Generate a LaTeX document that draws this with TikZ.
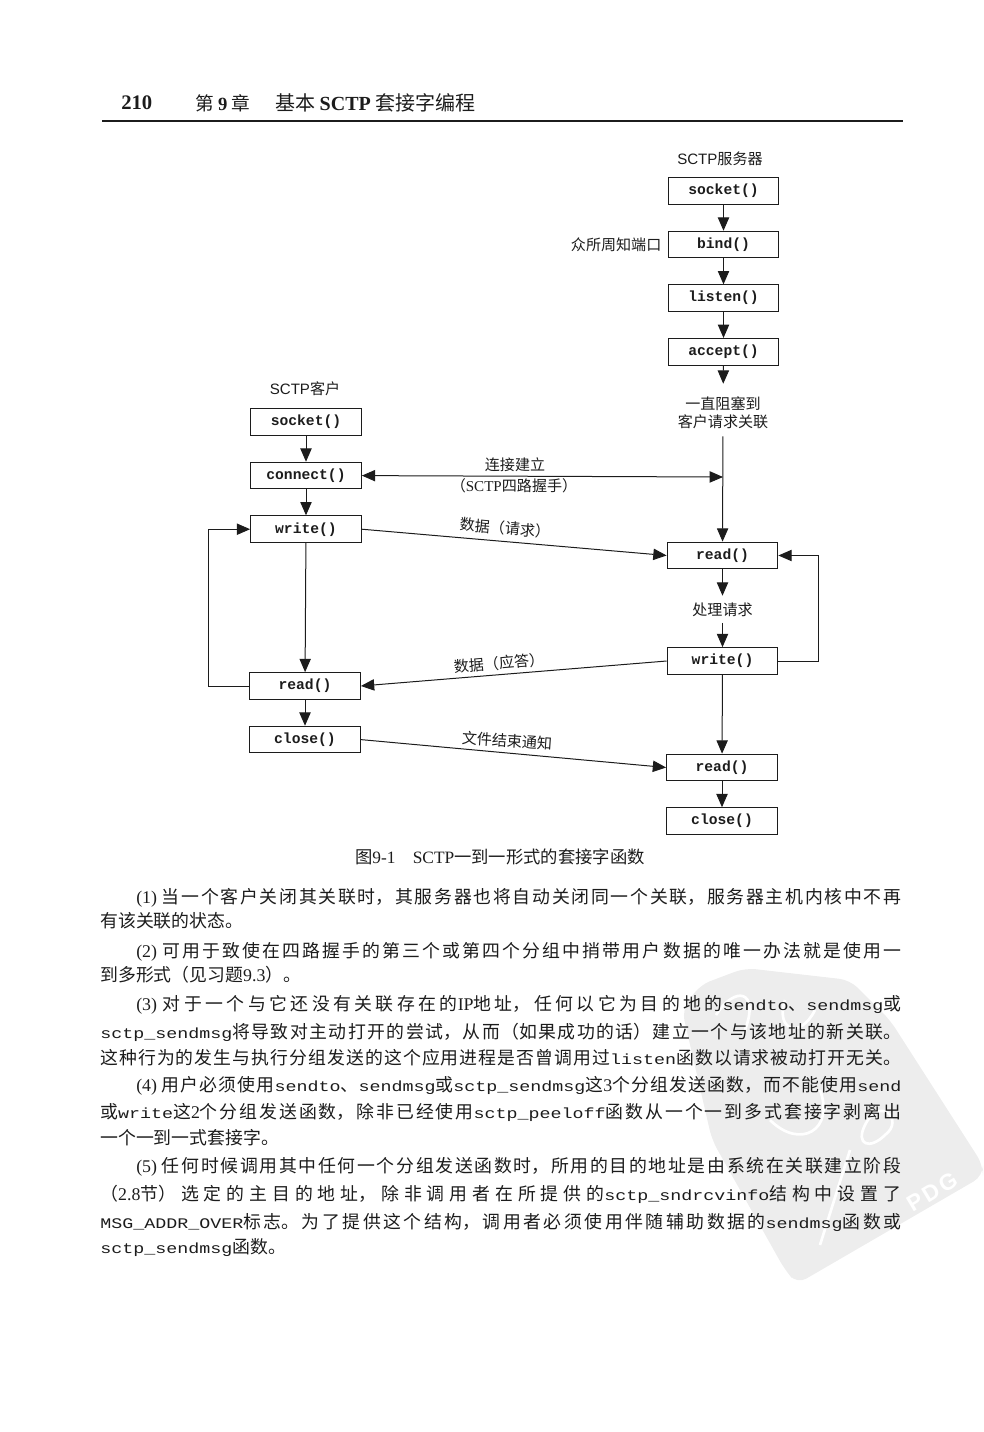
\documentclass[tikz,border=0pt]{standalone}
\usepackage{fontspec}
\usetikzlibrary{arrows.meta,positioning}
\setmainfont{Noto Sans CJK SC}
\newfontfamily\latfont{Liberation Serif}
\newfontfamily\helvfont{Liberation Sans}
\newfontfamily\boxfont{Liberation Mono}
\newfontfamily\stampfont[LetterSpace=12]{Liberation Sans}
\newfontfamily\codefont[FakeStretch=1.25]{Liberation Mono}
\newcommand{\lat}[1]{{\latfont #1}}
\newcommand{\helv}[1]{{\helvfont #1}}
\newcommand{\code}[1]{{\codefont\fontsize{11}{13}\selectfont #1}}
\XeTeXlinebreaklocale "zh"
\XeTeXlinebreakskip=0pt plus 3pt minus 0.3pt
\definecolor{ink}{HTML}{1C1C1C}
\definecolor{stamp}{HTML}{EDEDED}

\begin{document}
\begin{tikzpicture}[
  x=0.75pt, y=-0.75pt,
  font=\fontsize{11.3}{13.5}\selectfont,
  text=ink,
  funcbox/.style={draw=ink, line width=0.8pt, minimum width=83pt, minimum height=20pt,
    inner sep=0pt, font=\boxfont\bfseries\fontsize{11}{13}\selectfont},
  midnote/.style={inner sep=0pt, minimum height=20pt, align=center},
  plainnote/.style={inner sep=0pt, align=center},
  flow/.style={-{Triangle[length=10pt,width=8.5pt]}, line width=0.75pt, draw=ink},
  twoway/.style={{Triangle[length=10pt,width=8.5pt]}-{Triangle[length=10pt,width=8.5pt]}, line width=0.75pt, draw=ink},
  indentline/.style={anchor=west, inner sep=0pt, text width=573.75pt, align=justify,
    execute at begin node={\rightskip=0pt\parfillskip=0pt\relax}, font=\fontsize{13.4}{16}\selectfont},
  fullline/.style={indentline, text width=600.75pt},
  shortline/.style={anchor=west, inner sep=0pt, font=\fontsize{13.4}{16}\selectfont}
]
\useasboundingbox (0,0) rectangle (983,1432);

\fill[stamp, rounded corners=8pt] (745,968) -- (850,980) -- (890,1020) -- (983,1165) -- (983,1176)
  -- (797,1284) -- (785,1270) -- (712,1140) -- (682,1010) -- (700,985) -- cycle;
\draw[white, line width=2pt] (716,1015) .. controls (735,985) and (760,990) .. (745,1030);
\draw[white, line width=2pt] (785,1000) .. controls (775,1030) and (800,1040) .. (815,1010);
\draw[white, line width=2pt] (770,1120) .. controls (800,1150) and (835,1130) .. (820,1090);
\draw[white, line width=2pt] (885,1135) .. controls (905,1120) and (880,1095) .. (865,1125) .. controls (855,1145) and (870,1150) .. (885,1135);
\draw[white, line width=2pt] (820,1245) -- (850,1150);
\node[inner sep=0pt, text=white, rotate=31, font=\stampfont\bfseries\fontsize{17}{19}\selectfont] (stampmark) at (932,1192) {PDG};

\node[anchor=west, inner sep=0pt, font=\latfont\bfseries\fontsize{15.5}{17}\selectfont] (pagenum) at (121,103) {210};
\node[anchor=west, inner sep=0pt, font=\fontsize{14}{16}\selectfont] (chapnum) at (195,103) {第 \lat{\bfseries 9} 章};
\node[anchor=west, inner sep=0pt, font=\fontsize{15}{17}\selectfont] (chaptitle) at (275,103) {基本 \lat{\bfseries SCTP} 套接字编程};
\coordinate (ruleleft) at (102,121);
\coordinate (ruleright) at (903,121);
\draw[ink, line width=1pt] (ruleleft) -- (ruleright);

\node[plainnote] (srvtitle) at (720,159) {\helv{SCTP}服务器};
\node[funcbox] (srvsocket) at (723.5,191) {socket()};
\node[funcbox, below=19.4pt of srvsocket] (srvbind) {bind()};
\node[funcbox, below=19.4pt of srvbind] (srvlisten) {listen()};
\node[funcbox, below=19.4pt of srvlisten] (srvaccept) {accept()};
\node[plainnote, left=4.5pt of srvbind] (wellknown) {众所周知端口};
\node[plainnote, minimum height=43.5pt] (blocked) at (723,413) {一直阻塞到\\客户请求关联};

\node[plainnote] (clititle) at (305,389) {\helv{SCTP}客户};
\node[funcbox] (clisocket) at (306,422) {socket()};
\node[funcbox, below=19.4pt of clisocket] (cliconnect) {connect()};
\node[funcbox, below=19.4pt of cliconnect] (cliwrite) {write()};
\node[funcbox] (cliread) at (305,686) {read()};
\node[funcbox, below=19.4pt of cliread] (cliclose) {close()};

\node[funcbox] (srvread) at (722.5,555.5) {read()};
\node[midnote, below=19.75pt of srvread] (process) {处理请求};
\node[funcbox] (srvwrite) at (722.5,661) {write()};
\node[funcbox] (srvreadb) at (722,767.5) {read()};
\node[funcbox, below=19.4pt of srvreadb] (srvclose) {close()};

\coordinate (joint) at (723,477);
\draw[flow] (srvsocket) -- (srvbind);
\draw[flow] (srvbind) -- (srvlisten);
\draw[flow] (srvlisten) -- (srvaccept);
\draw[flow] (srvaccept) -- (blocked);
\draw[flow, shorten <=-4.5pt] (blocked) -- (srvread);
\draw[twoway] (cliconnect.east) -- (joint);
\draw[flow] (clisocket) -- (cliconnect);
\draw[flow] (cliconnect) -- (cliwrite);
\draw[flow] (cliwrite) -- (cliread);
\draw[flow] (cliread) -- (cliclose);
\draw[flow] (srvread) -- (process);
\draw[flow] (process) -- (srvwrite);
\draw[flow] (srvwrite) -- (srvreadb);
\draw[flow] (srvreadb) -- (srvclose);
\draw[flow] (cliwrite.east) -- (srvread.west);
\draw[flow] (srvwrite.west) -- (cliread.east);
\draw[flow] (cliclose.east) -- (srvreadb.west);
\draw[flow] (cliread.west) -- ++(-41,0) |- (cliwrite.west);
\draw[flow] (srvwrite.east) -- ++(40,0) |- (srvread.east);

\node[plainnote] (setuptop) at (515,465) {连接建立};
\node[plainnote] (setupbot) at (514,486) {（\lat{SCTP}四路握手）};
\node[plainnote, rotate=-5] (reqlabel) at (505,528) {数据（请求）};
\node[plainnote, rotate=5] (replabel) at (499,663) {数据（应答）};
\node[plainnote, rotate=-4] (finlabel) at (507,741) {文件结束通知};
\node[plainnote, font=\fontsize{13}{15}\selectfont] (caption) at (500,857) {图\lat{9-1}\quad\lat{SCTP}一到一形式的套接字函数};

\node[indentline] (pa) at (136,898) {\lat{(1)} 当一个客户关闭其关联时，其服务器也将自动关闭同一个关联，服务器主机内核中不再};
\node[shortline] (pb) at (100,921) {有该关联的状态。};
\node[indentline] (pc) at (136,952) {\lat{(2)} 可用于致使在四路握手的第三个或第四个分组中捎带用户数据的唯一办法就是使用一};
\node[shortline] (pd) at (100,975) {到多形式（见习题\lat{9.3}）。};
\node[indentline] (pe) at (136,1005) {\lat{(3)} 对于一个与它还没有关联存在的\lat{IP}地址，任何以它为目的地的\code{sendto}、\code{sendmsg}或};
\node[fullline] (pf) at (100,1032) {\code{sctp\_sendmsg}将导致对主动打开的尝试，从而（如果成功的话）建立一个与该地址的新关联。};
\node[fullline] (pg) at (100,1058) {这种行为的发生与执行分组发送的这个应用进程是否曾调用过\code{listen}函数以请求被动打开无关。};
\node[indentline] (ph) at (136,1086) {\lat{(4)} 用户必须使用\code{sendto}、\code{sendmsg}或\code{sctp\_sendmsg}这\lat{3}个分组发送函数，而不能使用\code{send}};
\node[fullline] (pi) at (100,1112) {或\code{write}这\lat{2}个分组发送函数，除非已经使用\code{sctp\_peeloff}函数从一个一到多式套接字剥离出};
\node[shortline] (pj) at (100,1138) {一个一到一式套接字。};
\node[indentline] (pk) at (136,1167) {\lat{(5)} 任何时候调用其中任何一个分组发送函数时，所用的目的地址是由系统在关联建立阶段};
\node[fullline] (pl) at (100,1194) {（\lat{2.8}节）选定的主目的地址，除非调用者在所提供的\code{sctp\_sndrcvinfo}结构中设置了};
\node[fullline] (pm) at (100,1222) {\code{MSG\_ADDR\_OVER}标志。为了提供这个结构，调用者必须使用伴随辅助数据的\code{sendmsg}函数或};
\node[shortline] (pn) at (100,1247) {\code{sctp\_sendmsg}函数。};
\end{tikzpicture}
\end{document}
